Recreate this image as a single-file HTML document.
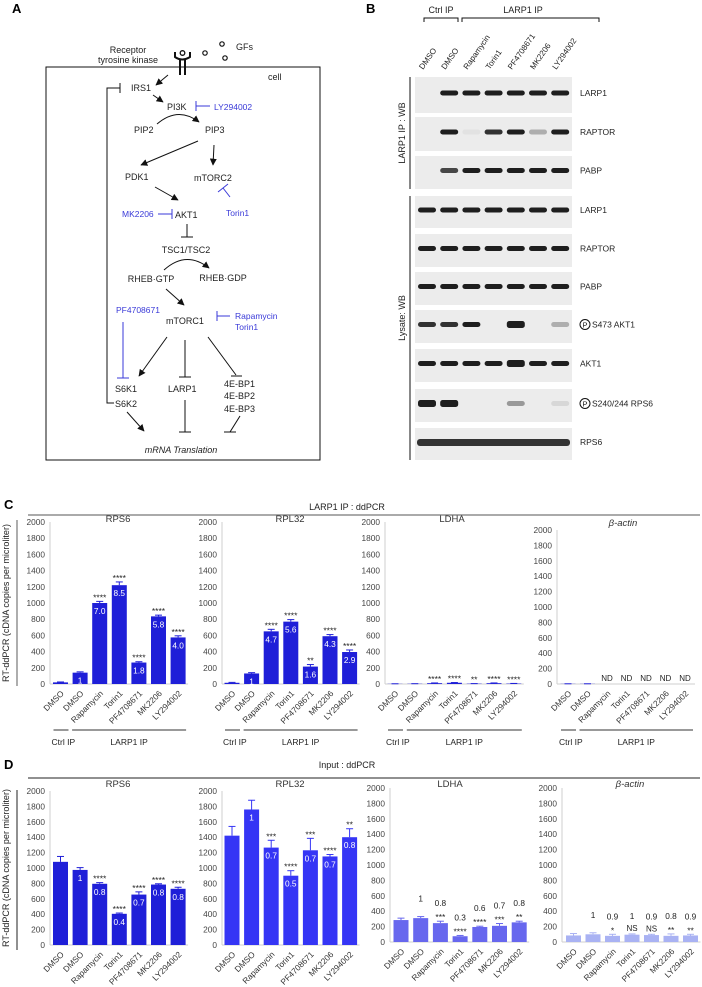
<!DOCTYPE html>
<html><head><meta charset="utf-8">
<style>
html,body{margin:0;padding:0;background:#fff;}
svg{display:block;font-family:"Liberation Sans",Arial,sans-serif;}
.t{font-size:9px;fill:#222;}
.blue{fill:#3a3ad8;}
</style></head>
<body>
<svg id="fig" width="702" height="987" viewBox="0 0 702 987" xmlns="http://www.w3.org/2000/svg">
<defs>
<marker id="ar" viewBox="0 0 10 10" refX="9" refY="5" markerWidth="7" markerHeight="7" orient="auto-start-reverse"><path d="M0,0 L10,5 L0,10 z" fill="#111"/></marker>
</defs>

<!-- Panel A -->
<g id="panelA">
<text x="12" y="13" font-size="13" font-weight="bold">A</text>
<rect x="46" y="67" width="274" height="393" fill="none" stroke="#111" stroke-width="1"/>
<text x="128" y="53" class="t" font-size="8" text-anchor="middle">Receptor</text>
<text x="128" y="63" class="t" font-size="8" text-anchor="middle">tyrosine kinase</text>
<g stroke="#111" stroke-width="2" fill="none">
<line x1="180" y1="60" x2="180" y2="75"/><line x1="185" y1="60" x2="185" y2="75"/>
<path d="M175,52 L175,57 Q182,62 190,57 L190,52"/>
<circle cx="182.5" cy="53" r="2.3" stroke-width="1.3"/>
</g>
<g fill="none" stroke="#111" stroke-width="1.2">
<circle cx="205" cy="53" r="2.2"/><circle cx="222" cy="44" r="2.2"/><circle cx="225" cy="58" r="2.2"/>
</g>
<text x="236" y="50" class="t" font-size="8">GFs</text>
<text x="268" y="80" class="t" font-size="8">cell</text>
<text x="131" y="91" class="t" font-size="8">IRS1</text>
<text x="167" y="110" class="t" font-size="11">PI3K</text>
<text x="214" y="110" class="blue" font-size="8.5">LY294002</text>
<text x="134" y="133" class="t" font-size="8">PIP2</text>
<text x="205" y="133" class="t" font-size="8">PIP3</text>
<text x="125" y="180" class="t" font-size="11">PDK1</text>
<text x="194" y="181" class="t" font-size="10">mTORC2</text>
<text x="122" y="217" class="blue" font-size="8.5">MK2206</text>
<text x="175" y="218" class="t" font-size="11">AKT1</text>
<text x="226" y="216" class="blue" font-size="8.5">Torin1</text>
<text x="186" y="253" class="t" font-size="8" text-anchor="middle">TSC1/TSC2</text>
<text x="151" y="282" class="t" font-size="8" text-anchor="middle">RHEB·GTP</text>
<text x="223" y="281" class="t" font-size="8" text-anchor="middle">RHEB·GDP</text>
<text x="116" y="313" class="blue" font-size="8.5">PF4708671</text>
<text x="166" y="324" class="t" font-size="11">mTORC1</text>
<text x="235" y="319" class="blue" font-size="8.5">Rapamycin</text>
<text x="235" y="330" class="blue" font-size="8.5">Torin1</text>
<text x="115" y="392" class="t" font-size="10.5">S6K1</text>
<text x="115" y="407" class="t" font-size="10.5">S6K2</text>
<text x="168" y="392" class="t" font-size="10.5">LARP1</text>
<text x="224" y="387" class="t" font-size="8">4E-BP1</text>
<text x="224" y="399" class="t" font-size="8">4E-BP2</text>
<text x="224" y="412" class="t" font-size="8">4E-BP3</text>
<text x="181" y="453" class="t" font-size="11" font-style="italic" text-anchor="middle">mRNA Translation</text>
<g stroke="#111" stroke-width="1" fill="none">
<line x1="168" y1="75" x2="156" y2="85" marker-end="url(#ar)"/>
<line x1="153" y1="95" x2="163" y2="102" marker-end="url(#ar)"/>
<path d="M157,124 Q178,106 199,122" marker-end="url(#ar)"/>
<line x1="198" y1="141" x2="141" y2="165" marker-end="url(#ar)"/>
<line x1="214" y1="145" x2="213" y2="165" marker-end="url(#ar)"/>
<line x1="155" y1="187" x2="178" y2="200" marker-end="url(#ar)"/>
<line x1="187" y1="224" x2="187" y2="237"/><line x1="181" y1="237" x2="193" y2="237"/>
<path d="M164,270 Q186,250 209,268" marker-end="url(#ar)"/>
<line x1="166" y1="289" x2="184" y2="305" marker-end="url(#ar)"/>
<line x1="167" y1="337" x2="139" y2="376" marker-end="url(#ar)"/>
<line x1="185" y1="340" x2="185" y2="377"/><line x1="179" y1="377" x2="191" y2="377"/>
<line x1="208" y1="337" x2="236" y2="375"/><line x1="231" y1="376" x2="242" y2="376"/>
<line x1="127" y1="412" x2="144" y2="431" marker-end="url(#ar)"/>
<line x1="185" y1="400" x2="185" y2="432"/><line x1="179" y1="432" x2="191" y2="432"/>
<line x1="240" y1="416" x2="230" y2="432"/><line x1="224" y1="432" x2="236" y2="432"/>
<polyline points="114,403 107,403 107,88 120,88"/><line x1="120" y1="83" x2="120" y2="93"/>
</g>
<g stroke="#3a3ad8" stroke-width="1" fill="none">
<line x1="196" y1="106" x2="210" y2="106"/><line x1="196" y1="101" x2="196" y2="111"/>
<line x1="158" y1="214" x2="172" y2="214"/><line x1="172" y1="209" x2="172" y2="219"/>
<line x1="230" y1="197" x2="223" y2="188"/><line x1="218" y1="192" x2="228" y2="184"/>
<line x1="217" y1="316" x2="230" y2="316"/><line x1="217" y1="311" x2="217" y2="321"/>
<line x1="123" y1="322" x2="123" y2="378"/><line x1="117" y1="378" x2="129" y2="378"/>
</g>
</g>

<!-- Panel B -->
<g id="panelB">
<text x="366" y="13" font-size="13" font-weight="bold">B</text>
<text x="441" y="13" class="t" font-size="8" text-anchor="middle">Ctrl IP</text>
<text x="523" y="13" class="t" font-size="8" text-anchor="middle">LARP1 IP</text>
<path d="M424,22 V18 H458 V22 M462,22 V18 H599 V22" fill="none" stroke="#111" stroke-width="1"/>
<line x1="410" y1="77" x2="410" y2="189" stroke="#111"/>
<line x1="410" y1="196" x2="410" y2="460" stroke="#111"/>
<text transform="translate(405,133) rotate(-90)" class="t" font-size="8" text-anchor="middle">LARP1 IP : WB</text>
<text transform="translate(405,318) rotate(-90)" class="t" font-size="8" text-anchor="middle">Lysate: WB</text>
<g id="blots"></g>
</g>

<!-- Panel C/D frames -->
<text x="4" y="509" font-size="13" font-weight="bold">C</text>
<text x="347" y="510" class="t" font-size="8.5" text-anchor="middle">LARP1 IP : ddPCR</text>
<line x1="28" y1="515" x2="700" y2="515" stroke="#777" stroke-width="1.2"/>
<line x1="17" y1="520" x2="17" y2="686" stroke="#777" stroke-width="1.2"/>
<text transform="translate(9,603) rotate(-90)" class="t" font-size="8.5" text-anchor="middle">RT-ddPCR (cDNA copies per microliter)</text>
<text x="4" y="769" font-size="13" font-weight="bold">D</text>
<text x="347" y="768" class="t" font-size="8.5" text-anchor="middle">Input : ddPCR</text>
<line x1="28" y1="778" x2="700" y2="778" stroke="#222" stroke-width="1"/>
<line x1="17" y1="790" x2="17" y2="950" stroke="#222" stroke-width="1"/>
<text transform="translate(9,868) rotate(-90)" class="t" font-size="8.5" text-anchor="middle">RT-ddPCR (cDNA copies per microliter)</text>
<g id="charts"></g>
</svg>
<script>
var NS = "http://www.w3.org/2000/svg";
var categories = ["DMSO","DMSO","Rapamycin","Torin1","PF4708671","MK2206","LY294002"];
var yTicks = [0,200,400,600,800,1000,1200,1400,1600,1800,2000];
var blotLabels = ["LARP1","RAPTOR","PABP","LARP1","RAPTOR","PABP","S473 AKT1","AKT1","S240/244 RPS6","RPS6"];
var blotPhospho = [false,false,false,false,false,false,true,false,true,false];
var blotIntensity = [
 [0,1,1,1,1,1,1],[0,1,0.05,0.9,1,0.3,1],[0,0.8,1,1,1,1,1],
 [1,1,1,1,1,1,1],[1,1,1,1,1,1,1],[1,1,1,1,1,1,1],
 [0.9,0.9,1,0,1.2,0,0.3],[1,1,1,1,1.1,1,1],[1.3,1.3,0,0,0.4,0,0.1],[1,1,1,1,1,1,1]];

var cRPS6 = [20,140,1000,1220,265,835,575];
var cRPS6Err = [5,10,20,40,10,15,20];
var cRPS6Fold = ["","1","7.0","8.5","1.8","5.8","4.0"];
var cRPS6Sig = ["","","****","****","****","****","****"];
var cRPL32 = [15,130,650,770,215,590,395];
var cRPL32Err = [5,10,25,25,25,20,25];
var cRPL32Fold = ["","1","4.7","5.6","1.6","4.3","2.9"];
var cRPL32Sig = ["","","****","****","**","****","****"];
var cLDHA = [2,3,10,15,4,10,5];
var cLDHAErr = [1,1,3,3,1,3,2];
var cLDHASig = ["","","****","****","**","****","****"];
var cActin = [2,2,0,0,0,0,0];
var cActinErr = [1,1,0,0,0,0,0];
var cActinSig = ["","","ND","ND","ND","ND","ND"];
var dRPS6 = [1080,975,795,405,655,785,730];
var dRPS6Err = [70,30,15,10,35,10,20];
var dRPS6Fold = ["","1","0.8","0.4","0.7","0.8","0.8"];
var dRPS6Sig = ["","","****","****","****","****","****"];
var dRPL32 = [1420,1760,1265,900,1230,1150,1400];
var dRPL32Err = [120,120,95,65,155,25,110];
var dRPL32Fold = ["","1","0.7","0.5","0.7","0.7","0.8"];
var dRPL32Sig = ["","","***","****","***","****","**"];
var dLDHA = [285,310,245,75,195,210,255];
var dLDHAErr = [25,20,25,10,10,30,15];
var dLDHAFold = ["","1","0.8","0.3","0.6","0.7","0.8"];
var dLDHASig = ["","","***","****","****","***","**"];
var dActin = [85,100,80,95,90,80,85];
var dActinErr = [25,20,20,10,10,25,15];
var dActinFold = ["","1","0.9","1","0.9","0.8","0.9"];
var dActinSig = ["","","*","NS","NS","**","**"];

function mk(tag, attrs, parent, txt){
  var e = document.createElementNS(NS, tag);
  for (var k in attrs) e.setAttribute(k, attrs[k]);
  if (txt !== undefined) e.textContent = txt;
  parent.appendChild(e);
  return e;
}

// Blots
var blots = document.getElementById("blots");
var rowTops = [77,117,156,196,234,272,310,349,389,428];
var rowBots = [113,151,189,228,267,305,343,382,422,460];
var laneX = function(i){ return 427 + i*22.2; };
blotLabels.forEach(function(lab, r){
  var y0 = rowTops[r], y1 = rowBots[r], cy = (y0+y1)/2 - 2;
  var bg = mk("rect", {x:415, y:y0, width:157, height:y1-y0, fill:"#ececec"}, blots);
  
  
  if (r === 9) {
    var b = mk("rect", {x:417, y:cy-3, width:153, height:7, rx:3, fill:"#333"}, blots);
    
    
  } else {
    blotIntensity[r].forEach(function(v, i){
      if (v <= 0) return;
      var op = Math.min(1, v);
      var h = 5 + (v > 1 ? 2 : 0);
      var b = mk("rect", {x:laneX(i)-9, y:cy-h/2, width:18, height:h, rx:2.5, fill:"#1e1e1e", "fill-opacity":op}, blots);
      
      
    });
  }
  var tx = 580;
  if (blotPhospho[r]) {
    mk("circle", {cx:585, cy:cy, r:5, fill:"none", stroke:"#111", "stroke-width":1}, blots);
    mk("text", {x:585, y:cy+3, "font-size":7.5, "text-anchor":"middle", fill:"#111"}, blots, "P");
    tx = 592;
  }
  var t = mk("text", {x:tx, y:cy+3, "font-size":8.5, fill:"#222"}, blots, lab);
  
  
});
categories.forEach(function(c, i){
  var t = mk("text", {transform:"translate("+(laneX(i)-4)+",70) rotate(-55)", "font-size":8, fill:"#222"}, blots, c);
  
  
});

// Charts
var charts = document.getElementById("charts");
function drawChart(o){
  var g = mk("g", {}, charts);
  
  
  var yS = function(v){ return o.y0 - v/2000*(o.y0 - o.y2000); };
  var xS = function(i){ return o.x1 + i*o.sp; };
  mk("line", {x1:o.ax, y1:o.y2000, x2:o.ax, y2:o.y0, stroke:"#cfcfcf", "stroke-width":1}, g);
  mk("line", {x1:o.ax, y1:o.y0, x2:xS(6)+10, y2:o.y0, stroke:"#cfcfcf", "stroke-width":1}, g);
  yTicks.forEach(function(v){
    var t = mk("text", {x:o.ax-5, y:yS(v)+3, "font-size":8.3, fill:"#444", "text-anchor":"end"}, g, v);
    
    
  });
  var tt = mk("text", {x:o.tx, y:o.ty, "font-size":9.5, fill:"#333", "text-anchor":"middle", "font-style":o.italic?"italic":"normal"}, g, o.title);
  
  
  o.vals.forEach(function(v, i){
    var cx = xS(i), top = yS(v), et = yS(v + o.err[i]);
    var b = mk("rect", {x:cx-7.5, y:top, width:15, height:Math.max(0, o.y0-top), fill:o.color}, g);
    
    
    if (o.err[i] > 0) {
      mk("line", {x1:cx, y1:top, x2:cx, y2:et, stroke:o.color, "stroke-width":1}, g);
      mk("line", {x1:cx-3.5, y1:et, x2:cx+3.5, y2:et, stroke:o.color, "stroke-width":1}, g);
    }
    if (o.fold && o.fold[i]) {
      if (o.foldAbove) {
        var ft = mk("text", {x:cx, y:et-15, "font-size":8.3, fill:"#222", "text-anchor":"middle"}, g, o.fold[i]);
        
        
      } else {
        var ft2 = mk("text", {x:cx, y:top+11, "font-size":8.3, fill:"#fff", "text-anchor":"middle"}, g, o.fold[i]);
        
        
      }
    }
    if (o.sig[i]) {
      var s = o.sig[i];
      var isStar = s.indexOf("*") >= 0;
      var st = mk("text", {x:cx, y:et-(isStar?1:3), "font-size":isStar?8.5:8, fill:"#222", "text-anchor":"middle"}, g, s);
      
      
    }
    var lt = mk("text", {transform:"translate("+(cx+4)+","+o.lab+") rotate(-45)", "font-size":8.3, fill:"#333", "text-anchor":"end"}, g, categories[i]);
    
    
  });
  if (o.groups) {
    mk("line", {x1:o.x1-7, y1:730, x2:o.x1+8, y2:730, stroke:"#333", "stroke-width":1}, g);
    mk("line", {x1:xS(1)-8, y1:730, x2:xS(6)+8, y2:730, stroke:"#333", "stroke-width":1}, g);
    var c1 = mk("text", {x:o.x1-9, y:745, "font-size":8.5, fill:"#222"}, g, "Ctrl IP");
    
    
    var c2 = mk("text", {x:(xS(1)+xS(6))/2, y:745, "font-size":8.5, fill:"#222", "text-anchor":"middle"}, g, "LARP1 IP");
    
    
  }
}
var cDark = "#1f1fd8";
drawChart({name:"c-rps6-chart", ax:50, x1:60.5, sp:19.6, y0:684, y2000:522, vals:cRPS6, err:cRPS6Err, fold:cRPS6Fold, sig:cRPS6Sig, color:cDark, title:"RPS6", tx:118, ty:522, lab:694, groups:true});
drawChart({name:"c-rpl32-chart", ax:222, x1:232, sp:19.6, y0:684, y2000:522, vals:cRPL32, err:cRPL32Err, fold:cRPL32Fold, sig:cRPL32Sig, color:cDark, title:"RPL32", tx:290, ty:522, lab:694, groups:true});
drawChart({name:"c-ldha-chart", ax:385, x1:395, sp:19.8, y0:684, y2000:522, vals:cLDHA, err:cLDHAErr, sig:cLDHASig, color:cDark, title:"LDHA", tx:452, ty:522, lab:694, groups:true});
drawChart({name:"c-bactin-chart", ax:557, x1:568, sp:19.5, y0:684, y2000:530, vals:cActin, err:cActinErr, sig:cActinSig, color:cDark, title:"β-actin", italic:true, tx:623, ty:526, lab:694, groups:true});
drawChart({name:"d-rps6-chart", ax:50, x1:60.5, sp:19.6, y0:945, y2000:791, vals:dRPS6, err:dRPS6Err, fold:dRPS6Fold, sig:dRPS6Sig, color:cDark, title:"RPS6", tx:118, ty:787, lab:955});
drawChart({name:"d-rpl32-chart", ax:222, x1:232, sp:19.6, y0:945, y2000:791, vals:dRPL32, err:dRPL32Err, fold:dRPL32Fold, sig:dRPL32Sig, color:"#3535f5", title:"RPL32", tx:290, ty:787, lab:955});
drawChart({name:"d-ldha-chart", ax:390, x1:401, sp:19.7, y0:942, y2000:788, vals:dLDHA, err:dLDHAErr, fold:dLDHAFold, foldAbove:true, sig:dLDHASig, color:"#6767ee", title:"LDHA", tx:450, ty:787, lab:952});
drawChart({name:"d-bactin-chart", ax:562, x1:573.5, sp:19.5, y0:942, y2000:788, vals:dActin, err:dActinErr, fold:dActinFold, foldAbove:true, sig:dActinSig, color:"#a9b2f3", title:"β-actin", italic:true, tx:630, ty:787, lab:952});
</script>
</body></html>
